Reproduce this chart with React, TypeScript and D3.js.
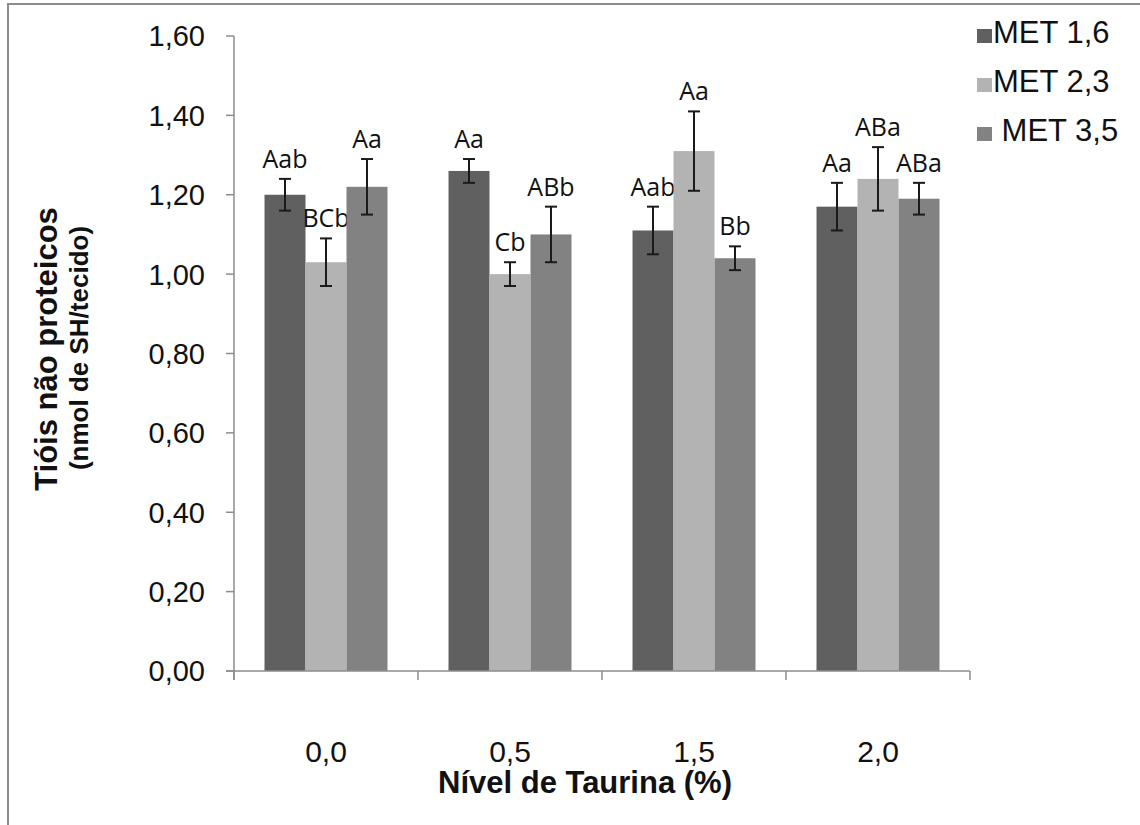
import { useMemo } from 'react';
import * as d3 from 'd3';

// Nível de taurina (%) groups and the three methionine series
const categories = ['0,0', '0,5', '1,5', '2,0'];
const seriesNames = ['MET 1,6', 'MET 2,3', ' MET 3,5'];
const met16 = [1.2, 1.26, 1.11, 1.17];
const met23 = [1.03, 1.0, 1.31, 1.24];
const met35 = [1.22, 1.1, 1.04, 1.19];
const err16 = [0.04, 0.03, 0.06, 0.06];
const err23 = [0.06, 0.03, 0.1, 0.08];
const err35 = [0.07, 0.07, 0.03, 0.04];
const letters16 = ['Aab', 'Aa', 'Aab', 'Aa'];
const letters23 = ['BCb', 'Cb', 'Aa', 'ABa'];
const letters35 = ['Aa', 'ABb', 'Bb', 'ABa'];
const yTicks = [0, 0.2, 0.4, 0.6, 0.8, 1.0, 1.2, 1.4, 1.6];

const colors = ['#606060', '#b3b3b3', '#828282'];
const axisColor = '#8c8c8c';
const arial = '"Liberation Sans", Arial, sans-serif';

const W = 1140;
const H = 825;
const margin = { left: 234, right: 970, top: 36, bottom: 671 };

export default function App() {
	const values = [met16, met23, met35];
	const errors = [err16, err23, err35];
	const letters = [letters16, letters23, letters35];

	const x = useMemo(() => d3.scaleBand<string>().domain(categories).range([margin.left, margin.right]).padding(0), []);
	const xs = useMemo(
		() =>
			d3
				.scaleBand<number>()
				.domain([0, 1, 2])
				.range([0, x.bandwidth()])
				.paddingInner(0)
				.paddingOuter(0.744),
		[x]
	);
	const y = useMemo(() => d3.scaleLinear().domain([0, 1.6]).range([margin.bottom, margin.top]), []);
	const fmt = (v: number) => d3.format('.2f')(v).replace('.', ',');

	const capW = 6;

	return (
		<svg width={W} height={H} style={{ position: 'absolute', left: 0, top: 0, background: '#fff' }}>
			{/* frame */}
			<line x1={8} x2={8} y1={3} y2={H} stroke={axisColor} strokeWidth={2} />
			<line x1={7} x2={W} y1={4} y2={4} stroke={axisColor} strokeWidth={2} />

			{/* y axis */}
			<line x1={margin.left} x2={margin.left} y1={y(1.6)} y2={margin.bottom + 9} stroke={axisColor} strokeWidth={1.5} />
			{yTicks.map((t) => (
				<g key={t}>
					<line x1={margin.left - 8} x2={margin.left} y1={y(t)} y2={y(t)} stroke={axisColor} strokeWidth={1.5} />
					<text x={205} y={y(t)} dy="0.36em" textAnchor="end" fontFamily={arial} fontSize={29} fill="#111">
						{fmt(t)}
					</text>
				</g>
			))}

			{/* bars */}
			{categories.map((c, i) => (
				<g key={c}>
					{values.map((vals, s) => {
						const bx = (x(c) ?? 0) + (xs(s) ?? 0);
						const bw = xs.bandwidth();
						const cx = bx + bw / 2;
						const v = vals[i];
						const e = errors[s][i];
						return (
							<g key={s}>
								<rect x={bx} y={y(v)} width={bw} height={y(0) - y(v)} fill={colors[s]} />
								<line x1={cx} x2={cx} y1={y(v + e)} y2={y(v - e)} stroke="#1a1a1a" strokeWidth={2} />
								<line x1={cx - capW} x2={cx + capW} y1={y(v + e)} y2={y(v + e)} stroke="#1a1a1a" strokeWidth={2} />
								<line x1={cx - capW} x2={cx + capW} y1={y(v - e)} y2={y(v - e)} stroke="#1a1a1a" strokeWidth={2} />
								<text x={cx} y={y(v + e) - 11} textAnchor="middle" fontFamily='"Open Sans", sans-serif' fontSize={25} fill="#111">
									{letters[s][i]}
								</text>
							</g>
						);
					})}
				</g>
			))}

			{/* x axis */}
			<line x1={margin.left - 8} x2={margin.right} y1={margin.bottom} y2={margin.bottom} stroke={axisColor} strokeWidth={1.5} />
			{[...categories.map((c) => x(c) ?? 0), margin.right].map((tx, i) => (
				<line key={i} x1={tx} x2={tx} y1={margin.bottom} y2={margin.bottom + 9} stroke={axisColor} strokeWidth={1.5} />
			))}
			{categories.map((c) => (
				<text key={c} x={(x(c) ?? 0) + x.bandwidth() / 2} y={762} textAnchor="middle" fontFamily={arial} fontSize={30} fill="#111">
					{c}
				</text>
			))}

			{/* axis titles */}
			<text x={585} y={793} textAnchor="middle" fontFamily={arial} fontWeight="bold" fontSize={31} fill="#111">
				Nível de Taurina (%)
			</text>
			<text transform="translate(57,349) rotate(-90)" textAnchor="middle" fontFamily={arial} fontWeight="bold" fontSize={31} fill="#111">
				Tióis não proteicos
			</text>
			<text transform="translate(88,348) rotate(-90)" textAnchor="middle" fontFamily={arial} fontWeight="bold" fontSize={26} fill="#111">
				(nmol de SH/tecido)
			</text>

			{/* legend */}
			{seriesNames.map((name, s) => (
				<g key={name} transform={`translate(977,${29 + s * 49})`}>
					<rect x={0} y={0} width={15} height={14} fill={colors[s]} />
					<text x={16} y={14} fontFamily={arial} fontSize={31} fill="#111" style={{ whiteSpace: 'pre' }}>
						{name}
					</text>
				</g>
			))}
		</svg>
	);
}
